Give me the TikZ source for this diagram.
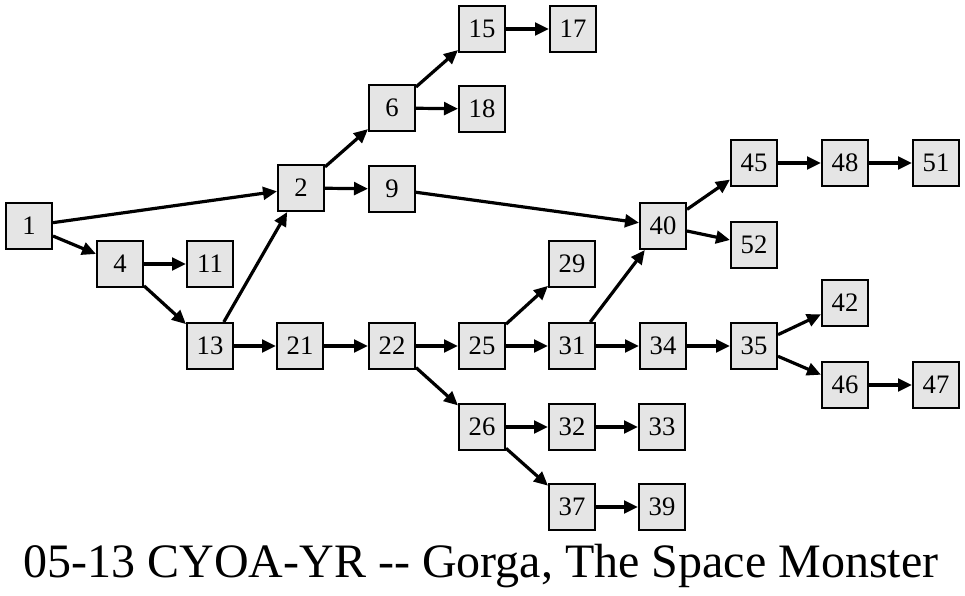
\documentclass[tikz,border=0pt]{standalone}
\usepackage{fontspec}
\setmainfont{Liberation Serif}
\usetikzlibrary{arrows.meta}
\definecolor{boxfill}{HTML}{E5E5E5}
\tikzset{
  box/.style={draw=black, line width=1.5pt, fill=boxfill, minimum width=34.5pt, minimum height=34.5pt, inner sep=0pt, font=\fontsize{20}{22}\selectfont},
  edge/.style={line width=2.4pt, -{Triangle[length=10.5pt,width=9.5pt]}},
}
\begin{document}
\begin{tikzpicture}[x=0.75pt,y=-0.75pt]
\useasboundingbox (0,0) rectangle (965,596);
\node[box] (n1) at (29,226) {1};
\node[box] (n2) at (301,188) {2};
\node[box] (n4) at (120,264) {4};
\node[box] (n11) at (210,264) {11};
\node[box] (n13) at (210,346) {13};
\node[box] (n21) at (300,346) {21};
\node[box] (n6) at (392,108) {6};
\node[box] (n9) at (392,189) {9};
\node[box] (n15) at (482,29) {15};
\node[box] (n17) at (573,29) {17};
\node[box] (n18) at (482,109) {18};
\node[box] (n22) at (392,346) {22};
\node[box] (n25) at (482,346) {25};
\node[box] (n26) at (482,427) {26};
\node[box] (n29) at (572,264) {29};
\node[box] (n31) at (572,346) {31};
\node[box] (n32) at (572,427) {32};
\node[box] (n37) at (572,507) {37};
\node[box] (n33) at (662,427) {33};
\node[box] (n39) at (662,507) {39};
\node[box] (n34) at (663,346) {34};
\node[box] (n40) at (663,226) {40};
\node[box] (n45) at (754,163) {45};
\node[box] (n52) at (754,245) {52};
\node[box] (n48) at (845,163) {48};
\node[box] (n51) at (936,163) {51};
\node[box] (n35) at (754,346) {35};
\node[box] (n42) at (845,303) {42};
\node[box] (n46) at (845,385) {46};
\node[box] (n47) at (936,385) {47};
\node[anchor=base, font=\fontsize{36}{40}\selectfont, inner sep=0pt] (title) at (481,577) {05-13 CYOA-YR -{}- Gorga, The Space Monster};
\foreach \a/\b in {1/2,1/4,4/11,4/13,13/2,13/21,2/6,2/9,6/15,6/18,15/17,9/40,21/22,22/25,22/26,25/29,25/31,31/40,31/34,26/32,26/37,32/33,37/39,34/35,40/45,40/52,45/48,48/51,35/42,35/46,46/47}
  \draw[edge] (n\a) -- (n\b);
\end{tikzpicture}
\end{document}
